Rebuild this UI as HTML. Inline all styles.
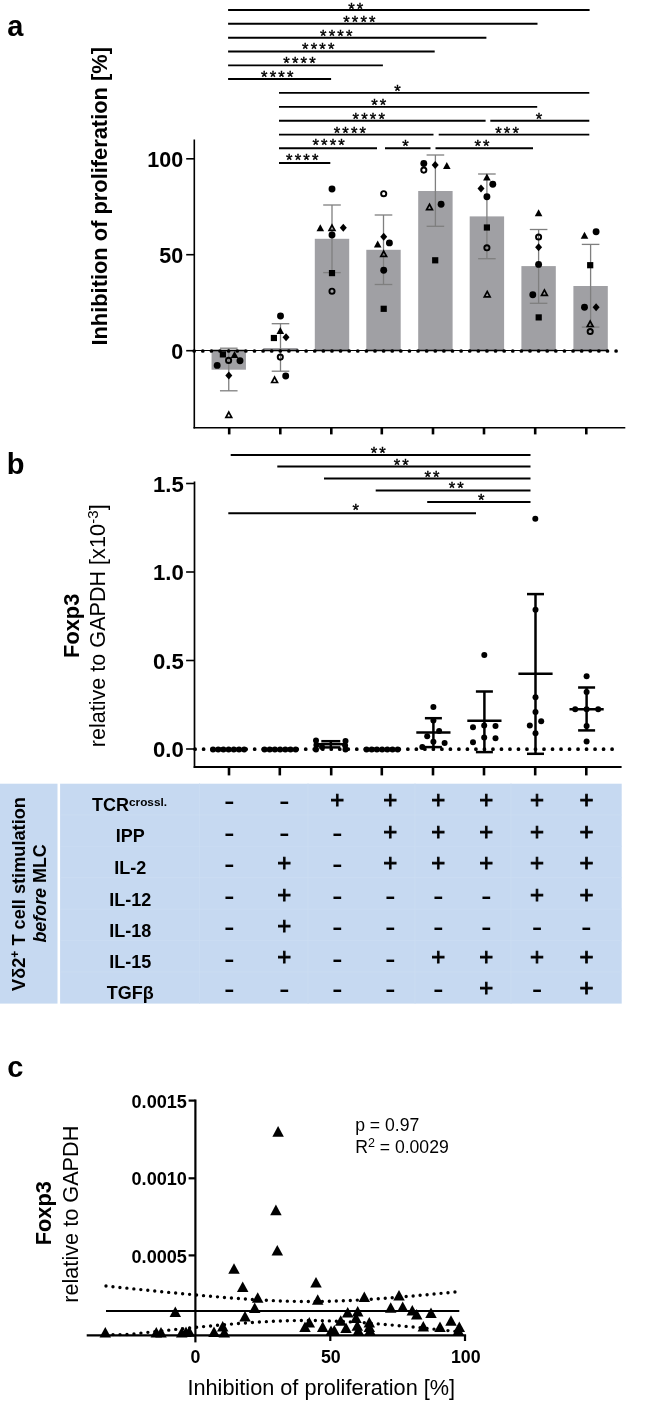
<!DOCTYPE html>
<html lang="en"><head><meta charset="utf-8"><title>Figure</title>
<style>html,body{margin:0;padding:0;background:#fff}svg{display:block}text{font-family:"Liberation Sans", Arial, Helvetica, sans-serif;fill:#000}</style>
</head><body>
<svg width="646" height="1402" viewBox="0 0 646 1402">
<rect width="646" height="1402" fill="#fff"/>
<g id="panel-a">
<text x="7.3" y="36.3" font-size="29" font-weight="bold" text-anchor="start" >a</text>
<text transform="translate(106.9 196.3) rotate(-90)" font-size="21.85" font-weight="bold" text-anchor="middle" >Inhibition of proliferation [%]</text>
<line x1="228.1" y1="10" x2="589.6" y2="10" stroke="#000" stroke-width="1.9" />
<text x="356.79" y="15.4" font-size="16.6" font-weight="normal" text-anchor="middle" letter-spacing="2.18" stroke="#000" stroke-width="0.4">**</text>
<line x1="228.1" y1="23.8" x2="537.5" y2="23.8" stroke="#000" stroke-width="1.9" />
<text x="360.49" y="27.9" font-size="16.6" font-weight="normal" text-anchor="middle" letter-spacing="2.18" stroke="#000" stroke-width="0.4">****</text>
<line x1="228.1" y1="37.7" x2="486.4" y2="37.7" stroke="#000" stroke-width="1.9" />
<text x="337.29" y="41.6" font-size="16.6" font-weight="normal" text-anchor="middle" letter-spacing="2.18" stroke="#000" stroke-width="0.4">****</text>
<line x1="228.1" y1="51.5" x2="434.7" y2="51.5" stroke="#000" stroke-width="1.9" />
<text x="319.29" y="55.4" font-size="16.6" font-weight="normal" text-anchor="middle" letter-spacing="2.18" stroke="#000" stroke-width="0.4">****</text>
<line x1="228.1" y1="65.4" x2="382.9" y2="65.4" stroke="#000" stroke-width="1.9" />
<text x="300.59" y="68.9" font-size="16.6" font-weight="normal" text-anchor="middle" letter-spacing="2.18" stroke="#000" stroke-width="0.4">****</text>
<line x1="228.1" y1="79" x2="331.1" y2="79" stroke="#000" stroke-width="1.9" />
<text x="278.39" y="82.9" font-size="16.6" font-weight="normal" text-anchor="middle" letter-spacing="2.18" stroke="#000" stroke-width="0.4">****</text>
<line x1="279" y1="92.9" x2="589.3" y2="92.9" stroke="#000" stroke-width="1.9" />
<text x="398.59" y="96.6" font-size="16.6" font-weight="normal" text-anchor="middle" letter-spacing="2.18" stroke="#000" stroke-width="0.4">*</text>
<line x1="279" y1="106.9" x2="537.2" y2="106.9" stroke="#000" stroke-width="1.9" />
<text x="379.89" y="111.1" font-size="16.6" font-weight="normal" text-anchor="middle" letter-spacing="2.18" stroke="#000" stroke-width="0.4">**</text>
<line x1="279" y1="120.8" x2="485.6" y2="120.8" stroke="#000" stroke-width="1.9" />
<text x="369.89" y="125.2" font-size="16.6" font-weight="normal" text-anchor="middle" letter-spacing="2.18" stroke="#000" stroke-width="0.4">****</text>
<line x1="490.3" y1="120.8" x2="589.3" y2="120.8" stroke="#000" stroke-width="1.9" />
<text x="540.09" y="125.2" font-size="16.6" font-weight="normal" text-anchor="middle" letter-spacing="2.18" stroke="#000" stroke-width="0.4">*</text>
<line x1="279" y1="134.6" x2="433.5" y2="134.6" stroke="#000" stroke-width="1.9" />
<text x="350.99" y="138.5" font-size="16.6" font-weight="normal" text-anchor="middle" letter-spacing="2.18" stroke="#000" stroke-width="0.4">****</text>
<line x1="438.7" y1="134.6" x2="589.3" y2="134.6" stroke="#000" stroke-width="1.9" />
<text x="508.09" y="138.6" font-size="16.6" font-weight="normal" text-anchor="middle" letter-spacing="2.18" stroke="#000" stroke-width="0.4">***</text>
<line x1="279" y1="148.3" x2="377" y2="148.3" stroke="#000" stroke-width="1.9" />
<text x="329.69" y="150.6" font-size="16.6" font-weight="normal" text-anchor="middle" letter-spacing="2.18" stroke="#000" stroke-width="0.4">****</text>
<line x1="385" y1="148.3" x2="430.5" y2="148.3" stroke="#000" stroke-width="1.9" />
<text x="406.49" y="152.3" font-size="16.6" font-weight="normal" text-anchor="middle" letter-spacing="2.18" stroke="#000" stroke-width="0.4">*</text>
<line x1="435.5" y1="148.3" x2="533" y2="148.3" stroke="#000" stroke-width="1.9" />
<text x="483.09" y="152.3" font-size="16.6" font-weight="normal" text-anchor="middle" letter-spacing="2.18" stroke="#000" stroke-width="0.4">**</text>
<line x1="279" y1="163" x2="330.3" y2="163" stroke="#000" stroke-width="1.9" />
<text x="303.39" y="166.2" font-size="16.6" font-weight="normal" text-anchor="middle" letter-spacing="2.18" stroke="#000" stroke-width="0.4">****</text>
<rect x="211.55" y="350.7" width="34.4" height="19" fill="#a0a0a4"/>
<rect x="263.3" y="348" width="34.4" height="2.7" fill="#a0a0a4"/>
<rect x="314.8" y="238.8" width="34.4" height="111.9" fill="#a0a0a4"/>
<rect x="366.3" y="249.8" width="34.4" height="100.9" fill="#a0a0a4"/>
<rect x="418.2" y="191" width="34.4" height="159.7" fill="#a0a0a4"/>
<rect x="469.7" y="216.4" width="34.4" height="134.3" fill="#a0a0a4"/>
<rect x="521.4" y="266.1" width="34.4" height="84.6" fill="#a0a0a4"/>
<rect x="573.4" y="286" width="34.4" height="64.7" fill="#a0a0a4"/>
<line x1="228.75" y1="348.2" x2="228.75" y2="390.8" stroke="#7f7f7f" stroke-width="1.3" />
<line x1="219.95" y1="348.2" x2="237.55" y2="348.2" stroke="#7f7f7f" stroke-width="1.3" />
<line x1="219.95" y1="390.8" x2="237.55" y2="390.8" stroke="#7f7f7f" stroke-width="1.3" />
<line x1="280.5" y1="323.7" x2="280.5" y2="371.2" stroke="#7f7f7f" stroke-width="1.3" />
<line x1="271.7" y1="323.7" x2="289.3" y2="323.7" stroke="#7f7f7f" stroke-width="1.3" />
<line x1="271.7" y1="371.2" x2="289.3" y2="371.2" stroke="#7f7f7f" stroke-width="1.3" />
<line x1="332" y1="205" x2="332" y2="272.6" stroke="#7f7f7f" stroke-width="1.3" />
<line x1="323.2" y1="205" x2="340.8" y2="205" stroke="#7f7f7f" stroke-width="1.3" />
<line x1="323.2" y1="272.6" x2="340.8" y2="272.6" stroke="#7f7f7f" stroke-width="1.3" />
<line x1="383.5" y1="215" x2="383.5" y2="284.5" stroke="#7f7f7f" stroke-width="1.3" />
<line x1="374.7" y1="215" x2="392.3" y2="215" stroke="#7f7f7f" stroke-width="1.3" />
<line x1="374.7" y1="284.5" x2="392.3" y2="284.5" stroke="#7f7f7f" stroke-width="1.3" />
<line x1="435.4" y1="155" x2="435.4" y2="226.3" stroke="#7f7f7f" stroke-width="1.3" />
<line x1="426.6" y1="155" x2="444.2" y2="155" stroke="#7f7f7f" stroke-width="1.3" />
<line x1="426.6" y1="226.3" x2="444.2" y2="226.3" stroke="#7f7f7f" stroke-width="1.3" />
<line x1="486.9" y1="174" x2="486.9" y2="258.7" stroke="#7f7f7f" stroke-width="1.3" />
<line x1="478.1" y1="174" x2="495.7" y2="174" stroke="#7f7f7f" stroke-width="1.3" />
<line x1="478.1" y1="258.7" x2="495.7" y2="258.7" stroke="#7f7f7f" stroke-width="1.3" />
<line x1="538.6" y1="229.5" x2="538.6" y2="303.3" stroke="#7f7f7f" stroke-width="1.3" />
<line x1="529.8" y1="229.5" x2="547.4" y2="229.5" stroke="#7f7f7f" stroke-width="1.3" />
<line x1="529.8" y1="303.3" x2="547.4" y2="303.3" stroke="#7f7f7f" stroke-width="1.3" />
<line x1="590.6" y1="244.4" x2="590.6" y2="327.1" stroke="#7f7f7f" stroke-width="1.3" />
<line x1="581.8" y1="244.4" x2="599.4" y2="244.4" stroke="#7f7f7f" stroke-width="1.3" />
<line x1="581.8" y1="327.1" x2="599.4" y2="327.1" stroke="#7f7f7f" stroke-width="1.3" />
<line x1="194.3" y1="350.5" x2="608" y2="350.5" stroke="#000" stroke-width="1" />
<line x1="211.55" y1="350.5" x2="245.95" y2="350.5" stroke="#000" stroke-width="1.3" />
<line x1="263.3" y1="350.5" x2="297.7" y2="350.5" stroke="#000" stroke-width="1.3" />
<line x1="314.8" y1="350.5" x2="349.2" y2="350.5" stroke="#000" stroke-width="1.3" />
<line x1="366.3" y1="350.5" x2="400.7" y2="350.5" stroke="#000" stroke-width="1.3" />
<line x1="418.2" y1="350.5" x2="452.6" y2="350.5" stroke="#000" stroke-width="1.3" />
<line x1="469.7" y1="350.5" x2="504.1" y2="350.5" stroke="#000" stroke-width="1.3" />
<line x1="521.4" y1="350.5" x2="555.8" y2="350.5" stroke="#000" stroke-width="1.3" />
<line x1="573.4" y1="350.5" x2="607.8" y2="350.5" stroke="#000" stroke-width="1.3" />
<line x1="194.2" y1="351" x2="616.3" y2="351" stroke="#000" stroke-width="3.7" stroke-linecap="round" stroke-dasharray="0 8.61"/>
<line x1="194.3" y1="139.6" x2="194.3" y2="428.5" stroke="#000" stroke-width="1.6" />
<line x1="193.5" y1="427.7" x2="625.3" y2="427.7" stroke="#000" stroke-width="1.6" />
<line x1="186.2" y1="158.8" x2="194.3" y2="158.8" stroke="#000" stroke-width="1.6" />
<line x1="186.2" y1="254.7" x2="194.3" y2="254.7" stroke="#000" stroke-width="1.6" />
<line x1="186.2" y1="350.7" x2="194.3" y2="350.7" stroke="#000" stroke-width="1.6" />
<line x1="229.2" y1="427.7" x2="229.2" y2="434.4" stroke="#000" stroke-width="2.6" />
<line x1="280.3" y1="427.7" x2="280.3" y2="434.4" stroke="#000" stroke-width="2.6" />
<line x1="331.3" y1="427.7" x2="331.3" y2="434.4" stroke="#000" stroke-width="2.6" />
<line x1="381.8" y1="427.7" x2="381.8" y2="434.4" stroke="#000" stroke-width="2.6" />
<line x1="433" y1="427.7" x2="433" y2="434.4" stroke="#000" stroke-width="2.6" />
<line x1="484" y1="427.7" x2="484" y2="434.4" stroke="#000" stroke-width="2.6" />
<line x1="535.2" y1="427.7" x2="535.2" y2="434.4" stroke="#000" stroke-width="2.6" />
<line x1="586.3" y1="427.7" x2="586.3" y2="434.4" stroke="#000" stroke-width="2.6" />
<text x="183.2" y="167.4" font-size="21.5" font-weight="bold" text-anchor="end" >100</text>
<text x="183.2" y="263.3" font-size="21.5" font-weight="bold" text-anchor="end" >50</text>
<text x="183.2" y="359.3" font-size="21.5" font-weight="bold" text-anchor="end" >0</text>
<circle cx="217.2" cy="365.4" r="3.45" fill="#000"/>
<rect x="219.8" y="351.3" width="6.2" height="6.2" fill="#000"/>
<circle cx="228.6" cy="360.4" r="2.57" fill="none" stroke="#000" stroke-width="1.95"/>
<polygon points="234.5,350.9 238.3,357.9 230.7,357.9" fill="#000"/>
<circle cx="240" cy="360.7" r="3.45" fill="#000"/>
<polygon points="228.8,371.4 232.3,375.4 228.8,379.4 225.3,375.4" fill="#000"/>
<polygon points="228.8,412.05 231.69,417.4 225.91,417.4" fill="none" stroke="#000" stroke-width="1.7" stroke-linejoin="miter"/>
<polygon points="280.3,326.9 284.1,333.9 276.5,333.9" fill="#000"/>
<rect x="270.8" y="334.9" width="6.2" height="6.2" fill="#000"/>
<polygon points="286,333.3 289.5,337.3 286,341.3 282.5,337.3" fill="#000"/>
<circle cx="280.3" cy="357.1" r="2.57" fill="none" stroke="#000" stroke-width="1.95"/>
<polygon points="274.6,377.15 277.49,382.5 271.71,382.5" fill="none" stroke="#000" stroke-width="1.7" stroke-linejoin="miter"/>
<circle cx="285.7" cy="376" r="3.45" fill="#000"/>
<circle cx="280.5" cy="316" r="3.45" fill="#000"/>
<circle cx="332" cy="189" r="3.45" fill="#000"/>
<polygon points="320.3,224.3 324.1,231.3 316.5,231.3" fill="#000"/>
<polygon points="332,225.05 334.89,230.4 329.11,230.4" fill="none" stroke="#000" stroke-width="1.7" stroke-linejoin="miter"/>
<polygon points="343.3,223.8 346.8,227.8 343.3,231.8 339.8,227.8" fill="#000"/>
<circle cx="332" cy="235" r="3.45" fill="#000"/>
<rect x="328.9" y="270" width="6.2" height="6.2" fill="#000"/>
<circle cx="332" cy="291.2" r="2.57" fill="none" stroke="#000" stroke-width="1.95"/>
<circle cx="383.7" cy="193.7" r="2.57" fill="none" stroke="#000" stroke-width="1.95"/>
<polygon points="383.7,232.7 387.2,236.7 383.7,240.7 380.2,236.7" fill="#000"/>
<polygon points="377.7,240.4 381.5,247.4 373.9,247.4" fill="#000"/>
<circle cx="389.4" cy="242.9" r="3.45" fill="#000"/>
<polygon points="383.7,251.05 386.59,256.4 380.81,256.4" fill="none" stroke="#000" stroke-width="1.7" stroke-linejoin="miter"/>
<circle cx="383.7" cy="270.2" r="3.45" fill="#000"/>
<rect x="380.6" y="305.7" width="6.2" height="6.2" fill="#000"/>
<circle cx="423.8" cy="163.5" r="3.45" fill="#000"/>
<circle cx="423.8" cy="170.1" r="2.57" fill="none" stroke="#000" stroke-width="1.95"/>
<polygon points="435.2,161 438.7,165 435.2,169 431.7,165" fill="#000"/>
<polygon points="446.8,161.9 450.6,168.9 443,168.9" fill="#000"/>
<polygon points="429.5,204.25 432.39,209.6 426.61,209.6" fill="none" stroke="#000" stroke-width="1.7" stroke-linejoin="miter"/>
<circle cx="441.1" cy="204.3" r="3.45" fill="#000"/>
<rect x="432.1" y="257.2" width="6.2" height="6.2" fill="#000"/>
<polygon points="486.9,173.5 490.7,180.5 483.1,180.5" fill="#000"/>
<circle cx="492.8" cy="184.2" r="3.45" fill="#000"/>
<polygon points="481,184.4 484.5,188.4 481,192.4 477.5,188.4" fill="#000"/>
<circle cx="486.9" cy="196.8" r="3.45" fill="#000"/>
<rect x="483.8" y="224.4" width="6.2" height="6.2" fill="#000"/>
<circle cx="486.9" cy="247.8" r="2.57" fill="none" stroke="#000" stroke-width="1.95"/>
<polygon points="487.2,291.45 490.09,296.8 484.31,296.8" fill="none" stroke="#000" stroke-width="1.7" stroke-linejoin="miter"/>
<polygon points="538.6,209.2 542.4,216.2 534.8,216.2" fill="#000"/>
<circle cx="538.6" cy="237" r="2.57" fill="none" stroke="#000" stroke-width="1.95"/>
<polygon points="538.6,243.3 542.1,247.3 538.6,251.3 535.1,247.3" fill="#000"/>
<circle cx="538.6" cy="264.4" r="3.45" fill="#000"/>
<circle cx="532.8" cy="294.7" r="3.45" fill="#000"/>
<polygon points="544.4,289.95 547.29,295.3 541.51,295.3" fill="none" stroke="#000" stroke-width="1.7" stroke-linejoin="miter"/>
<rect x="535.6" y="314.3" width="6.2" height="6.2" fill="#000"/>
<polygon points="584.5,231.7 588.3,238.7 580.7,238.7" fill="#000"/>
<circle cx="596.1" cy="231.8" r="3.45" fill="#000"/>
<rect x="587.1" y="262.1" width="6.2" height="6.2" fill="#000"/>
<circle cx="584.5" cy="307.3" r="3.45" fill="#000"/>
<polygon points="596.1,303.3 599.6,307.3 596.1,311.3 592.6,307.3" fill="#000"/>
<polygon points="590.2,321.15 593.09,326.5 587.31,326.5" fill="none" stroke="#000" stroke-width="1.7" stroke-linejoin="miter"/>
<circle cx="590.2" cy="331.5" r="2.57" fill="none" stroke="#000" stroke-width="1.95"/>
</g>
<g id="panel-b">
<text x="6.7" y="474.2" font-size="29" font-weight="bold" text-anchor="start" >b</text>
<text transform="translate(79 625.8) rotate(-90)" font-size="21.8" font-weight="bold" text-anchor="middle" >Foxp3</text>
<text transform="translate(105 625.8) rotate(-90)" font-size="21.6" font-weight="normal" text-anchor="middle" >relative to GAPDH [x10<tspan font-size="15" dy="-7.5" dx="0.4">-3</tspan><tspan dy="7.5">]</tspan></text>
<line x1="230.7" y1="455" x2="530.5" y2="455" stroke="#000" stroke-width="2" />
<text x="379.39" y="459.2" font-size="16.6" font-weight="normal" text-anchor="middle" letter-spacing="2.18" stroke="#000" stroke-width="0.4">**</text>
<line x1="277.3" y1="466.6" x2="530.5" y2="466.6" stroke="#000" stroke-width="2" />
<text x="402.39" y="471.1" font-size="16.6" font-weight="normal" text-anchor="middle" letter-spacing="2.18" stroke="#000" stroke-width="0.4">**</text>
<line x1="324" y1="478.6" x2="530.5" y2="478.6" stroke="#000" stroke-width="2" />
<text x="433.09" y="483.4" font-size="16.6" font-weight="normal" text-anchor="middle" letter-spacing="2.18" stroke="#000" stroke-width="0.4">**</text>
<line x1="375.7" y1="490.4" x2="530.5" y2="490.4" stroke="#000" stroke-width="2" />
<text x="457.39" y="494.2" font-size="16.6" font-weight="normal" text-anchor="middle" letter-spacing="2.18" stroke="#000" stroke-width="0.4">**</text>
<line x1="427.2" y1="501.9" x2="530.5" y2="501.9" stroke="#000" stroke-width="2" />
<text x="482.39" y="506" font-size="16.6" font-weight="normal" text-anchor="middle" letter-spacing="2.18" stroke="#000" stroke-width="0.4">*</text>
<line x1="228.3" y1="513.2" x2="476" y2="513.2" stroke="#000" stroke-width="2" />
<text x="356.79" y="516" font-size="16.6" font-weight="normal" text-anchor="middle" letter-spacing="2.18" stroke="#000" stroke-width="0.4">*</text>
<line x1="195.1" y1="749.2" x2="612.4" y2="749.2" stroke="#000" stroke-width="3.8" stroke-linecap="round" stroke-dasharray="0 8.51"/>
<line x1="194.5" y1="481.5" x2="194.5" y2="767.9" stroke="#000" stroke-width="1.7" />
<line x1="193.7" y1="767" x2="621.6" y2="767" stroke="#000" stroke-width="1.9" />
<line x1="186.1" y1="483.5" x2="194.5" y2="483.5" stroke="#000" stroke-width="1.6" />
<line x1="186.1" y1="572" x2="194.5" y2="572" stroke="#000" stroke-width="1.6" />
<line x1="186.1" y1="660.5" x2="194.5" y2="660.5" stroke="#000" stroke-width="1.6" />
<line x1="186.1" y1="749" x2="194.5" y2="749" stroke="#000" stroke-width="1.6" />
<line x1="229" y1="767" x2="229" y2="775.4" stroke="#000" stroke-width="2.6" />
<line x1="279.8" y1="767" x2="279.8" y2="775.4" stroke="#000" stroke-width="2.6" />
<line x1="331.2" y1="767" x2="331.2" y2="775.4" stroke="#000" stroke-width="2.6" />
<line x1="381.8" y1="767" x2="381.8" y2="775.4" stroke="#000" stroke-width="2.6" />
<line x1="433" y1="767" x2="433" y2="775.4" stroke="#000" stroke-width="2.6" />
<line x1="484" y1="767" x2="484" y2="775.4" stroke="#000" stroke-width="2.6" />
<line x1="535.2" y1="767" x2="535.2" y2="775.4" stroke="#000" stroke-width="2.6" />
<line x1="586.3" y1="767" x2="586.3" y2="775.4" stroke="#000" stroke-width="2.6" />
<text x="183.8" y="491.6" font-size="22.2" font-weight="bold" text-anchor="end" >1.5</text>
<text x="183.8" y="580.1" font-size="22.2" font-weight="bold" text-anchor="end" >1.0</text>
<text x="183.8" y="668.6" font-size="22.2" font-weight="bold" text-anchor="end" >0.5</text>
<text x="183.8" y="757.1" font-size="22.2" font-weight="bold" text-anchor="end" >0.0</text>
<circle cx="213" cy="749.6" r="3" fill="#000"/>
<circle cx="218.2" cy="749.6" r="3" fill="#000"/>
<circle cx="223.4" cy="749.6" r="3" fill="#000"/>
<circle cx="228.6" cy="749.6" r="3" fill="#000"/>
<circle cx="233.8" cy="749.6" r="3" fill="#000"/>
<circle cx="239" cy="749.6" r="3" fill="#000"/>
<circle cx="244.2" cy="749.6" r="3" fill="#000"/>
<line x1="213.6" y1="749.6" x2="243.6" y2="749.6" stroke="#000" stroke-width="3.4" />
<circle cx="264.5" cy="749.6" r="3" fill="#000"/>
<circle cx="269.7" cy="749.6" r="3" fill="#000"/>
<circle cx="274.9" cy="749.6" r="3" fill="#000"/>
<circle cx="280.1" cy="749.6" r="3" fill="#000"/>
<circle cx="285.3" cy="749.6" r="3" fill="#000"/>
<circle cx="290.5" cy="749.6" r="3" fill="#000"/>
<circle cx="295.7" cy="749.6" r="3" fill="#000"/>
<line x1="265.1" y1="749.6" x2="295.1" y2="749.6" stroke="#000" stroke-width="3.4" />
<circle cx="366.5" cy="749.6" r="3" fill="#000"/>
<circle cx="371.7" cy="749.6" r="3" fill="#000"/>
<circle cx="376.9" cy="749.6" r="3" fill="#000"/>
<circle cx="382.1" cy="749.6" r="3" fill="#000"/>
<circle cx="387.3" cy="749.6" r="3" fill="#000"/>
<circle cx="392.5" cy="749.6" r="3" fill="#000"/>
<circle cx="397.7" cy="749.6" r="3" fill="#000"/>
<line x1="367.1" y1="749.6" x2="397.1" y2="749.6" stroke="#000" stroke-width="3.4" />
<circle cx="316" cy="740.5" r="3" fill="#000"/>
<circle cx="316.4" cy="745" r="3" fill="#000"/>
<circle cx="316" cy="749.5" r="3" fill="#000"/>
<circle cx="345.5" cy="741" r="3" fill="#000"/>
<circle cx="345.1" cy="745.4" r="3" fill="#000"/>
<circle cx="345.5" cy="749.5" r="3" fill="#000"/>
<circle cx="322" cy="747" r="3" fill="#000"/>
<line x1="330.8" y1="741.2" x2="330.8" y2="747.4" stroke="#000" stroke-width="2.5" />
<line x1="321.3" y1="741.2" x2="340.3" y2="741.2" stroke="#000" stroke-width="2.5" />
<line x1="321.3" y1="747.4" x2="340.3" y2="747.4" stroke="#000" stroke-width="2.5" />
<line x1="316.3" y1="744.2" x2="345.3" y2="744.2" stroke="#000" stroke-width="2.5" />
<circle cx="433.4" cy="707" r="3" fill="#000"/>
<circle cx="433.4" cy="720.6" r="3" fill="#000"/>
<circle cx="439.1" cy="731" r="3" fill="#000"/>
<circle cx="427.2" cy="736.2" r="3" fill="#000"/>
<circle cx="433.4" cy="741.7" r="3" fill="#000"/>
<circle cx="444.6" cy="743" r="3" fill="#000"/>
<circle cx="422.3" cy="747.1" r="3" fill="#000"/>
<line x1="433.4" y1="718.2" x2="433.4" y2="747.1" stroke="#000" stroke-width="2.5" />
<line x1="424.9" y1="718.2" x2="441.9" y2="718.2" stroke="#000" stroke-width="2.5" />
<line x1="424.9" y1="747.1" x2="441.9" y2="747.1" stroke="#000" stroke-width="2.5" />
<line x1="416.3" y1="732.5" x2="450.5" y2="732.5" stroke="#000" stroke-width="2.5" />
<circle cx="484.3" cy="655" r="3" fill="#000"/>
<circle cx="473" cy="727.3" r="3" fill="#000"/>
<circle cx="484.2" cy="725.6" r="3" fill="#000"/>
<circle cx="495.5" cy="726.1" r="3" fill="#000"/>
<circle cx="484.2" cy="737.5" r="3" fill="#000"/>
<circle cx="495.5" cy="738.2" r="3" fill="#000"/>
<circle cx="473" cy="742.2" r="3" fill="#000"/>
<line x1="484.4" y1="691.5" x2="484.4" y2="752.1" stroke="#000" stroke-width="2.5" />
<line x1="475.9" y1="691.5" x2="492.9" y2="691.5" stroke="#000" stroke-width="2.5" />
<line x1="475.9" y1="752.1" x2="492.9" y2="752.1" stroke="#000" stroke-width="2.5" />
<line x1="467.3" y1="720.7" x2="501.5" y2="720.7" stroke="#000" stroke-width="2.5" />
<circle cx="535.3" cy="518.8" r="3" fill="#000"/>
<circle cx="535.5" cy="609.7" r="3" fill="#000"/>
<circle cx="535.5" cy="697.3" r="3" fill="#000"/>
<circle cx="535.5" cy="712.1" r="3" fill="#000"/>
<circle cx="541.2" cy="721.2" r="3" fill="#000"/>
<circle cx="529.8" cy="725.5" r="3" fill="#000"/>
<circle cx="535.5" cy="733.2" r="3" fill="#000"/>
<line x1="535.5" y1="594.1" x2="535.5" y2="753.8" stroke="#000" stroke-width="2.5" />
<line x1="527" y1="594.1" x2="544" y2="594.1" stroke="#000" stroke-width="2.5" />
<line x1="527" y1="753.8" x2="544" y2="753.8" stroke="#000" stroke-width="2.5" />
<line x1="518.4" y1="673.8" x2="552.6" y2="673.8" stroke="#000" stroke-width="2.5" />
<circle cx="586.6" cy="676.3" r="3" fill="#000"/>
<circle cx="586.6" cy="692" r="3" fill="#000"/>
<circle cx="575.2" cy="709.3" r="3" fill="#000"/>
<circle cx="586.6" cy="709.3" r="3" fill="#000"/>
<circle cx="598.2" cy="709.3" r="3" fill="#000"/>
<circle cx="586.6" cy="725.9" r="3" fill="#000"/>
<circle cx="586.6" cy="741.5" r="3" fill="#000"/>
<line x1="586.6" y1="687.5" x2="586.6" y2="730.4" stroke="#000" stroke-width="2.5" />
<line x1="578.1" y1="687.5" x2="595.1" y2="687.5" stroke="#000" stroke-width="2.5" />
<line x1="578.1" y1="730.4" x2="595.1" y2="730.4" stroke="#000" stroke-width="2.5" />
<line x1="569.5" y1="709.3" x2="603.7" y2="709.3" stroke="#000" stroke-width="2.5" />
</g>
<g id="table">
<rect x="0" y="783.7" width="57.5" height="219.9" fill="#c6d9f1"/>
<rect x="60.1" y="783.7" width="561.6" height="219.9" fill="#c6d9f1"/>
<line x1="60.1" y1="815" x2="621.7" y2="815" stroke="#ccddf3" stroke-width="0.8" />
<line x1="60.1" y1="846.3" x2="621.7" y2="846.3" stroke="#ccddf3" stroke-width="0.8" />
<line x1="60.1" y1="877.7" x2="621.7" y2="877.7" stroke="#ccddf3" stroke-width="0.8" />
<line x1="60.1" y1="909.2" x2="621.7" y2="909.2" stroke="#ccddf3" stroke-width="0.8" />
<line x1="60.1" y1="940.6" x2="621.7" y2="940.6" stroke="#ccddf3" stroke-width="0.8" />
<line x1="60.1" y1="972" x2="621.7" y2="972" stroke="#ccddf3" stroke-width="0.8" />
<line x1="199.5" y1="783.4" x2="199.5" y2="1003.6" stroke="#ccddf3" stroke-width="0.8" />
<line x1="308" y1="783.4" x2="308" y2="1003.6" stroke="#ccddf3" stroke-width="0.8" />
<line x1="415" y1="783.4" x2="415" y2="1003.6" stroke="#ccddf3" stroke-width="0.8" />
<line x1="511" y1="783.4" x2="511" y2="1003.6" stroke="#ccddf3" stroke-width="0.8" />
<text transform="translate(25.2 894) rotate(-90)" font-size="18.2" font-weight="bold" text-anchor="middle" >Vδ2<tspan font-size="12" dy="-6.5">+</tspan><tspan dy="6.5"> T cell stimulation</tspan></text>
<text transform="translate(46 893.4) rotate(-90)" font-size="17.9" font-weight="bold" text-anchor="middle" ><tspan font-style="italic">before</tspan> MLC</text>
<text x="92" y="811" font-size="18" font-weight="bold">TCR<tspan font-size="11.8" dy="-4.6">crossl.</tspan></text>
<text x="130.2" y="842.4" font-size="18" font-weight="bold" text-anchor="middle" >IPP</text>
<text x="130.2" y="873.8" font-size="18" font-weight="bold" text-anchor="middle" >IL-2</text>
<text x="130.2" y="906" font-size="18" font-weight="bold" text-anchor="middle" >IL-12</text>
<text x="130.2" y="936.7" font-size="18" font-weight="bold" text-anchor="middle" >IL-18</text>
<text x="130.2" y="968.3" font-size="18" font-weight="bold" text-anchor="middle" >IL-15</text>
<text x="130.2" y="999" font-size="18" font-weight="bold" text-anchor="middle" >TGFβ</text>
<text transform="translate(229.2 807.87) scale(1.27 0.86)" font-size="24" font-weight="bold" text-anchor="middle">-</text>
<text transform="translate(284.3 807.87) scale(1.27 0.86)" font-size="24" font-weight="bold" text-anchor="middle">-</text>
<text x="337.2" y="807.74" font-size="24" font-weight="normal" text-anchor="middle" stroke="#000" stroke-width="0.85">+</text>
<text x="390.2" y="807.74" font-size="24" font-weight="normal" text-anchor="middle" stroke="#000" stroke-width="0.85">+</text>
<text x="438.3" y="807.74" font-size="24" font-weight="normal" text-anchor="middle" stroke="#000" stroke-width="0.85">+</text>
<text x="486.2" y="807.74" font-size="24" font-weight="normal" text-anchor="middle" stroke="#000" stroke-width="0.85">+</text>
<text x="537.1" y="807.74" font-size="24" font-weight="normal" text-anchor="middle" stroke="#000" stroke-width="0.85">+</text>
<text x="586.4" y="807.74" font-size="24" font-weight="normal" text-anchor="middle" stroke="#000" stroke-width="0.85">+</text>
<text transform="translate(229.2 839.67) scale(1.27 0.86)" font-size="24" font-weight="bold" text-anchor="middle">-</text>
<text transform="translate(284.3 839.67) scale(1.27 0.86)" font-size="24" font-weight="bold" text-anchor="middle">-</text>
<text transform="translate(337.2 839.67) scale(1.27 0.86)" font-size="24" font-weight="bold" text-anchor="middle">-</text>
<text x="390.2" y="839.54" font-size="24" font-weight="normal" text-anchor="middle" stroke="#000" stroke-width="0.85">+</text>
<text x="438.3" y="839.54" font-size="24" font-weight="normal" text-anchor="middle" stroke="#000" stroke-width="0.85">+</text>
<text x="486.2" y="839.54" font-size="24" font-weight="normal" text-anchor="middle" stroke="#000" stroke-width="0.85">+</text>
<text x="537.1" y="839.54" font-size="24" font-weight="normal" text-anchor="middle" stroke="#000" stroke-width="0.85">+</text>
<text x="586.4" y="839.54" font-size="24" font-weight="normal" text-anchor="middle" stroke="#000" stroke-width="0.85">+</text>
<text transform="translate(229.2 871.37) scale(1.27 0.86)" font-size="24" font-weight="bold" text-anchor="middle">-</text>
<text x="284.3" y="871.24" font-size="24" font-weight="normal" text-anchor="middle" stroke="#000" stroke-width="0.85">+</text>
<text transform="translate(337.2 871.37) scale(1.27 0.86)" font-size="24" font-weight="bold" text-anchor="middle">-</text>
<text x="390.2" y="871.24" font-size="24" font-weight="normal" text-anchor="middle" stroke="#000" stroke-width="0.85">+</text>
<text x="438.3" y="871.24" font-size="24" font-weight="normal" text-anchor="middle" stroke="#000" stroke-width="0.85">+</text>
<text x="486.2" y="871.24" font-size="24" font-weight="normal" text-anchor="middle" stroke="#000" stroke-width="0.85">+</text>
<text x="537.1" y="871.24" font-size="24" font-weight="normal" text-anchor="middle" stroke="#000" stroke-width="0.85">+</text>
<text x="586.4" y="871.24" font-size="24" font-weight="normal" text-anchor="middle" stroke="#000" stroke-width="0.85">+</text>
<text transform="translate(229.2 902.67) scale(1.27 0.86)" font-size="24" font-weight="bold" text-anchor="middle">-</text>
<text x="284.3" y="902.54" font-size="24" font-weight="normal" text-anchor="middle" stroke="#000" stroke-width="0.85">+</text>
<text transform="translate(337.2 902.67) scale(1.27 0.86)" font-size="24" font-weight="bold" text-anchor="middle">-</text>
<text transform="translate(390.2 902.67) scale(1.27 0.86)" font-size="24" font-weight="bold" text-anchor="middle">-</text>
<text transform="translate(438.3 902.67) scale(1.27 0.86)" font-size="24" font-weight="bold" text-anchor="middle">-</text>
<text transform="translate(486.2 902.67) scale(1.27 0.86)" font-size="24" font-weight="bold" text-anchor="middle">-</text>
<text x="537.1" y="902.54" font-size="24" font-weight="normal" text-anchor="middle" stroke="#000" stroke-width="0.85">+</text>
<text x="586.4" y="902.54" font-size="24" font-weight="normal" text-anchor="middle" stroke="#000" stroke-width="0.85">+</text>
<text transform="translate(229.2 934.27) scale(1.27 0.86)" font-size="24" font-weight="bold" text-anchor="middle">-</text>
<text x="284.3" y="934.14" font-size="24" font-weight="normal" text-anchor="middle" stroke="#000" stroke-width="0.85">+</text>
<text transform="translate(337.2 934.27) scale(1.27 0.86)" font-size="24" font-weight="bold" text-anchor="middle">-</text>
<text transform="translate(390.2 934.27) scale(1.27 0.86)" font-size="24" font-weight="bold" text-anchor="middle">-</text>
<text transform="translate(438.3 934.27) scale(1.27 0.86)" font-size="24" font-weight="bold" text-anchor="middle">-</text>
<text transform="translate(486.2 934.27) scale(1.27 0.86)" font-size="24" font-weight="bold" text-anchor="middle">-</text>
<text transform="translate(537.1 934.27) scale(1.27 0.86)" font-size="24" font-weight="bold" text-anchor="middle">-</text>
<text transform="translate(586.4 934.27) scale(1.27 0.86)" font-size="24" font-weight="bold" text-anchor="middle">-</text>
<text transform="translate(229.2 965.57) scale(1.27 0.86)" font-size="24" font-weight="bold" text-anchor="middle">-</text>
<text x="284.3" y="965.44" font-size="24" font-weight="normal" text-anchor="middle" stroke="#000" stroke-width="0.85">+</text>
<text transform="translate(337.2 965.57) scale(1.27 0.86)" font-size="24" font-weight="bold" text-anchor="middle">-</text>
<text transform="translate(390.2 965.57) scale(1.27 0.86)" font-size="24" font-weight="bold" text-anchor="middle">-</text>
<text x="438.3" y="965.44" font-size="24" font-weight="normal" text-anchor="middle" stroke="#000" stroke-width="0.85">+</text>
<text x="486.2" y="965.44" font-size="24" font-weight="normal" text-anchor="middle" stroke="#000" stroke-width="0.85">+</text>
<text x="537.1" y="965.44" font-size="24" font-weight="normal" text-anchor="middle" stroke="#000" stroke-width="0.85">+</text>
<text x="586.4" y="965.44" font-size="24" font-weight="normal" text-anchor="middle" stroke="#000" stroke-width="0.85">+</text>
<text transform="translate(229.2 996.17) scale(1.27 0.86)" font-size="24" font-weight="bold" text-anchor="middle">-</text>
<text transform="translate(284.3 996.17) scale(1.27 0.86)" font-size="24" font-weight="bold" text-anchor="middle">-</text>
<text transform="translate(337.2 996.17) scale(1.27 0.86)" font-size="24" font-weight="bold" text-anchor="middle">-</text>
<text transform="translate(390.2 996.17) scale(1.27 0.86)" font-size="24" font-weight="bold" text-anchor="middle">-</text>
<text transform="translate(438.3 996.17) scale(1.27 0.86)" font-size="24" font-weight="bold" text-anchor="middle">-</text>
<text x="486.2" y="996.04" font-size="24" font-weight="normal" text-anchor="middle" stroke="#000" stroke-width="0.85">+</text>
<text transform="translate(537.1 996.17) scale(1.27 0.86)" font-size="24" font-weight="bold" text-anchor="middle">-</text>
<text x="586.4" y="996.04" font-size="24" font-weight="normal" text-anchor="middle" stroke="#000" stroke-width="0.85">+</text>
</g>
<g id="panel-c">
<text x="7.2" y="1076.7" font-size="29" font-weight="bold" text-anchor="start" >c</text>
<text transform="translate(51.4 1213.2) rotate(-90)" font-size="21.8" font-weight="bold" text-anchor="middle" >Foxp3</text>
<text transform="translate(77.8 1214.2) rotate(-90)" font-size="21.7" font-weight="normal" text-anchor="middle" >relative to GAPDH</text>
<text x="321.3" y="1395" font-size="21.7" font-weight="normal" text-anchor="middle" >Inhibition of proliferation [%]</text>
<line x1="106" y1="1311" x2="459.3" y2="1311" stroke="#000" stroke-width="1.9" />
<polyline points="106,1286 108,1286.21 110,1286.42 112,1286.63 114,1286.84 116,1287.05 118,1287.25 120,1287.46 122,1287.67 124,1287.88 126,1288.08 128,1288.29 130,1288.49 132,1288.7 134,1288.9 136,1289.11 138,1289.31 140,1289.52 142,1289.72 144,1289.92 146,1290.13 148,1290.33 150,1290.53 152,1290.73 154,1290.93 156,1291.13 158,1291.33 160,1291.53 162,1291.72 164,1291.92 166,1292.12 168,1292.31 170,1292.51 172,1292.7 174,1292.9 176,1293.09 178,1293.28 180,1293.47 182,1293.66 184,1293.85 186,1294.04 188,1294.23 190,1294.41 192,1294.6 194,1294.78 196,1294.97 198,1295.15 200,1295.33 202,1295.51 204,1295.69 206,1295.87 208,1296.04 210,1296.22 212,1296.39 214,1296.56 216,1296.73 218,1296.9 220,1297.07 222,1297.23 224,1297.4 226,1297.56 228,1297.72 230,1297.87 232,1298.03 234,1298.18 236,1298.34 238,1298.48 240,1298.63 242,1298.78 244,1298.92 246,1299.06 248,1299.19 250,1299.33 252,1299.46 254,1299.58 256,1299.71 258,1299.83 260,1299.95 262,1300.06 264,1300.17 266,1300.28 268,1300.39 270,1300.48 272,1300.58 274,1300.67 276,1300.76 278,1300.84 280,1300.92 282,1301 284,1301.07 286,1301.13 288,1301.19 290,1301.25 292,1301.3 294,1301.34 296,1301.38 298,1301.42 300,1301.45 302,1301.47 304,1301.49 306,1301.5 308,1301.51 310,1301.51 312,1301.51 314,1301.5 316,1301.49 318,1301.47 320,1301.45 322,1301.42 324,1301.38 326,1301.34 328,1301.3 330,1301.25 332,1301.19 334,1301.13 336,1301.07 338,1301 340,1300.92 342,1300.84 344,1300.76 346,1300.67 348,1300.58 350,1300.48 352,1300.39 354,1300.28 356,1300.17 358,1300.06 360,1299.95 362,1299.83 364,1299.71 366,1299.58 368,1299.46 370,1299.33 372,1299.19 374,1299.06 376,1298.92 378,1298.78 380,1298.63 382,1298.48 384,1298.34 386,1298.18 388,1298.03 390,1297.87 392,1297.72 394,1297.56 396,1297.4 398,1297.23 400,1297.07 402,1296.9 404,1296.73 406,1296.56 408,1296.39 410,1296.22 412,1296.04 414,1295.87 416,1295.69 418,1295.51 420,1295.33 422,1295.15 424,1294.97 426,1294.78 428,1294.6 430,1294.41 432,1294.23 434,1294.04 436,1293.85 438,1293.66 440,1293.47 442,1293.28 444,1293.09 446,1292.9 448,1292.7 450,1292.51 452,1292.31 454,1292.12 456,1291.92 458,1291.72 460,1291.53" fill="none" stroke="#000" stroke-width="3.4" stroke-linecap="round" stroke-dasharray="0 7.0"/>
<polyline points="106,1334.6 108,1334.6 110,1334.6 112,1334.6 114,1334.6 116,1334.6 118,1334.6 120,1334.6 122,1334.6 124,1334.6 126,1334.6 128,1334.54 130,1334.32 132,1334.1 134,1333.88 136,1333.66 138,1333.44 140,1333.22 142,1333 144,1332.78 146,1332.56 148,1332.35 150,1332.13 152,1331.92 154,1331.7 156,1331.48 158,1331.27 160,1331.06 162,1330.84 164,1330.63 166,1330.42 168,1330.21 170,1330 172,1329.79 174,1329.58 176,1329.37 178,1329.17 180,1328.96 182,1328.76 184,1328.55 186,1328.35 188,1328.15 190,1327.94 192,1327.74 194,1327.55 196,1327.35 198,1327.15 200,1326.96 202,1326.76 204,1326.57 206,1326.38 208,1326.19 210,1326 212,1325.81 214,1325.63 216,1325.45 218,1325.26 220,1325.08 222,1324.91 224,1324.73 226,1324.56 228,1324.38 230,1324.21 232,1324.05 234,1323.88 236,1323.72 238,1323.56 240,1323.4 242,1323.25 244,1323.1 246,1322.95 248,1322.8 250,1322.66 252,1322.52 254,1322.38 256,1322.25 258,1322.12 260,1322 262,1321.88 264,1321.76 266,1321.65 268,1321.54 270,1321.44 272,1321.34 274,1321.25 276,1321.16 278,1321.07 280,1321 282,1320.92 284,1320.85 286,1320.79 288,1320.73 290,1320.68 292,1320.64 294,1320.6 296,1320.56 298,1320.54 300,1320.51 302,1320.5 304,1320.49 306,1320.49 308,1320.49 310,1320.5 312,1320.51 314,1320.54 316,1320.56 318,1320.6 320,1320.64 322,1320.68 324,1320.73 326,1320.79 328,1320.85 330,1320.92 332,1321 334,1321.07 336,1321.16 338,1321.25 340,1321.34 342,1321.44 344,1321.54 346,1321.65 348,1321.76 350,1321.88 352,1322 354,1322.12 356,1322.25 358,1322.38 360,1322.52 362,1322.66 364,1322.8 366,1322.95 368,1323.1 370,1323.25 372,1323.4 374,1323.56 376,1323.72 378,1323.88 380,1324.05 382,1324.21 384,1324.38 386,1324.56 388,1324.73 390,1324.91 392,1325.08 394,1325.26 396,1325.45 398,1325.63 400,1325.81 402,1326 404,1326.19 406,1326.38 408,1326.57 410,1326.76 412,1326.96 414,1327.15 416,1327.35 418,1327.55 420,1327.74 422,1327.94 424,1328.15 426,1328.35 428,1328.55 430,1328.76 432,1328.96 434,1329.17 436,1329.37 438,1329.58 440,1329.79 442,1330 444,1330.21 446,1330.42 448,1330.63 450,1330.84 452,1331.06 454,1331.27 456,1331.48 458,1331.7 460,1331.92" fill="none" stroke="#000" stroke-width="3.4" stroke-linecap="round" stroke-dasharray="0 7.0"/>
<polygon points="105.3,1326.9 111.05,1337.5 99.55,1337.5" fill="#000"/>
<polygon points="156.3,1326.9 162.05,1337.5 150.55,1337.5" fill="#000"/>
<polygon points="161,1326.9 166.75,1337.5 155.25,1337.5" fill="#000"/>
<polygon points="175.3,1306.5 181.05,1317.1 169.55,1317.1" fill="#000"/>
<polygon points="181.7,1326.9 187.45,1337.5 175.95,1337.5" fill="#000"/>
<polygon points="186,1326.5 191.75,1337.1 180.25,1337.1" fill="#000"/>
<polygon points="189.3,1326.2 195.05,1336.8 183.55,1336.8" fill="#000"/>
<polygon points="214,1326.5 219.75,1337.1 208.25,1337.1" fill="#000"/>
<polygon points="224.3,1326.9 230.05,1337.5 218.55,1337.5" fill="#000"/>
<polygon points="222.7,1320.9 228.45,1331.5 216.95,1331.5" fill="#000"/>
<polygon points="234,1263.2 239.75,1273.8 228.25,1273.8" fill="#000"/>
<polygon points="242.7,1281.5 248.45,1292.1 236.95,1292.1" fill="#000"/>
<polygon points="257.7,1292.2 263.45,1302.8 251.95,1302.8" fill="#000"/>
<polygon points="254.7,1302.5 260.45,1313.1 248.95,1313.1" fill="#000"/>
<polygon points="245,1310.9 250.75,1321.5 239.25,1321.5" fill="#000"/>
<polygon points="277.3,1244.9 283.05,1255.5 271.55,1255.5" fill="#000"/>
<polygon points="278.1,1126.1 283.85,1136.7 272.35,1136.7" fill="#000"/>
<polygon points="275.9,1204.6 281.65,1215.2 270.15,1215.2" fill="#000"/>
<polygon points="316,1276.9 321.75,1287.5 310.25,1287.5" fill="#000"/>
<polygon points="317.7,1294.2 323.45,1304.8 311.95,1304.8" fill="#000"/>
<polygon points="364.3,1291.5 370.05,1302.1 358.55,1302.1" fill="#000"/>
<polygon points="399,1289.9 404.75,1300.5 393.25,1300.5" fill="#000"/>
<polygon points="390.7,1302.2 396.45,1312.8 384.95,1312.8" fill="#000"/>
<polygon points="402.7,1301.5 408.45,1312.1 396.95,1312.1" fill="#000"/>
<polygon points="412.3,1304.9 418.05,1315.5 406.55,1315.5" fill="#000"/>
<polygon points="416.7,1308.9 422.45,1319.5 410.95,1319.5" fill="#000"/>
<polygon points="431,1307.5 436.75,1318.1 425.25,1318.1" fill="#000"/>
<polygon points="347.7,1306.9 353.45,1317.5 341.95,1317.5" fill="#000"/>
<polygon points="357.7,1305.9 363.45,1316.5 351.95,1316.5" fill="#000"/>
<polygon points="356,1312.5 361.75,1323.1 350.25,1323.1" fill="#000"/>
<polygon points="340.7,1315.2 346.45,1325.8 334.95,1325.8" fill="#000"/>
<polygon points="309.3,1316.9 315.05,1327.5 303.55,1327.5" fill="#000"/>
<polygon points="305,1321.5 310.75,1332.1 299.25,1332.1" fill="#000"/>
<polygon points="322.7,1321.5 328.45,1332.1 316.95,1332.1" fill="#000"/>
<polygon points="331,1325.5 336.75,1336.1 325.25,1336.1" fill="#000"/>
<polygon points="334.3,1324.9 340.05,1335.5 328.55,1335.5" fill="#000"/>
<polygon points="346,1322.5 351.75,1333.1 340.25,1333.1" fill="#000"/>
<polygon points="357.3,1320.2 363.05,1330.8 351.55,1330.8" fill="#000"/>
<polygon points="358.3,1324.9 364.05,1335.5 352.55,1335.5" fill="#000"/>
<polygon points="369.3,1316.9 375.05,1327.5 363.55,1327.5" fill="#000"/>
<polygon points="369.3,1321.5 375.05,1332.1 363.55,1332.1" fill="#000"/>
<polygon points="370,1324.9 375.75,1335.5 364.25,1335.5" fill="#000"/>
<polygon points="423.3,1320.9 429.05,1331.5 417.55,1331.5" fill="#000"/>
<polygon points="440,1321.5 445.75,1332.1 434.25,1332.1" fill="#000"/>
<polygon points="451,1315.2 456.75,1325.8 445.25,1325.8" fill="#000"/>
<polygon points="459.3,1321.5 465.05,1332.1 453.55,1332.1" fill="#000"/>
<polygon points="458.3,1324.9 464.05,1335.5 452.55,1335.5" fill="#000"/>
<line x1="195.4" y1="1099.5" x2="195.4" y2="1342.4" stroke="#000" stroke-width="2.2" />
<line x1="86.7" y1="1335.4" x2="466.1" y2="1335.4" stroke="#000" stroke-width="2.2" />
<line x1="188.6" y1="1100.6" x2="195.4" y2="1100.6" stroke="#000" stroke-width="2.2" />
<line x1="188.6" y1="1178.3" x2="195.4" y2="1178.3" stroke="#000" stroke-width="2.2" />
<line x1="188.6" y1="1255.4" x2="195.4" y2="1255.4" stroke="#000" stroke-width="2.2" />
<line x1="330.3" y1="1335.4" x2="330.3" y2="1341" stroke="#000" stroke-width="2.2" />
<line x1="465" y1="1335.4" x2="465" y2="1341" stroke="#000" stroke-width="2.2" />
<text x="186.9" y="1107.7" font-size="18.1" font-weight="bold" text-anchor="end" >0.0015</text>
<text x="186.9" y="1185.4" font-size="18.1" font-weight="bold" text-anchor="end" >0.0010</text>
<text x="186.9" y="1262.5" font-size="18.1" font-weight="bold" text-anchor="end" >0.0005</text>
<text x="195.4" y="1363.2" font-size="17.8" font-weight="bold" text-anchor="middle" >0</text>
<text x="330.8" y="1363.2" font-size="17.8" font-weight="bold" text-anchor="middle" >50</text>
<text x="465.8" y="1363.2" font-size="17.8" font-weight="bold" text-anchor="middle" >100</text>
<text x="355.2" y="1131" font-size="17.6" font-weight="normal" text-anchor="start" >p = 0.97</text>
<text x="355.2" y="1153.3" font-size="17.6">R<tspan font-size="12.5" dy="-6">2</tspan><tspan dy="6"> = 0.0029</tspan></text>
</g>
</svg>
</body></html>
